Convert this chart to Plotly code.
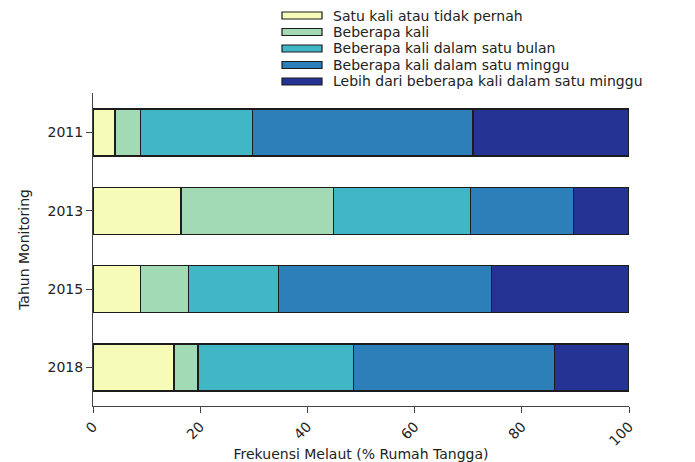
import plotly.graph_objects as go

# ---- data ----
years = ["2011", "2013", "2015", "2018"]
series_names = [
    "Satu kali atau tidak pernah",
    "Beberapa kali",
    "Beberapa kali dalam satu bulan",
    "Beberapa kali dalam satu minggu",
    "Lebih dari beberapa kali dalam satu minggu",
]
satu_kali = [4.1, 16.4, 8.9, 15.1]
beberapa_kali = [4.8, 28.5, 8.9, 4.5]
per_bulan = [20.9, 25.5, 16.8, 29.0]
per_minggu = [41.1, 19.3, 39.7, 37.5]
lebih_minggu = [29.1, 10.3, 25.7, 13.9]
series_values = [satu_kali, beberapa_kali, per_bulan, per_minggu, lebih_minggu]
colors = ["#f6fbb7", "#a1dab4", "#41b6c4", "#2c7fb8", "#253494"]
x_ticks = [0, 20, 40, 60, 80, 100]

FONT = "DejaVu Sans, Liberation Sans, Arial, sans-serif"
TXT = "#222222"

fig = go.Figure()
for name, vals, col in zip(series_names, series_values, colors):
    fig.add_trace(go.Bar(
        y=years, x=vals, name=name, orientation="h",
        marker=dict(color=col, line=dict(color="#1c1c1c", width=1.2)),
        width=0.6, showlegend=False,
    ))

# page body has an 8px margin; figure is sized so the page does not overflow
OFF = 8
W, H = 687, 454
L, R, T, B = 85, 66, 85, 56
pw, ph = W - L - R, H - T - B
def px_x(x):  # page pixel -> paper x
    return (x - OFF - L) / pw
def px_y(y):  # page pixel -> paper y
    return (H - B - (y - OFF)) / ph

# ---- legend drawn as wide boxes + text ----
row0, step = 15.5, 16.5
for i, (name, col) in enumerate(zip(series_names, colors)):
    yc = row0 + i * step
    fig.add_shape(type="rect", xref="paper", yref="paper",
                  x0=px_x(282), x1=px_x(322), y0=px_y(yc + 3.5), y1=px_y(yc - 3.5),
                  fillcolor=col, line=dict(color="#1c1c1c", width=1.2))
    fig.add_annotation(xref="paper", yref="paper", x=px_x(331), y=px_y(yc),
                       text=name, showarrow=False, xanchor="left", yanchor="middle",
                       font=dict(family=FONT, size=14, color=TXT))

fig.update_layout(
    barmode="stack",
    width=W, height=H,
    margin=dict(l=L, r=R, t=T, b=B, pad=0, autoexpand=False),
    paper_bgcolor="white", plot_bgcolor="white",
    font=dict(family=FONT, size=14, color=TXT),
    xaxis=dict(
        automargin=False,
        range=[0, 100], tickvals=x_ticks, ticktext=[str(v) for v in x_ticks],
        tickangle=-45, ticks="outside", ticklen=6, tickcolor="#444",
        showline=True, linecolor="#444", linewidth=1, showgrid=False, zeroline=False,
        title=dict(text="Frekuensi Melaut (% Rumah Tangga)", standoff=2,
                   font=dict(family=FONT, size=14, color=TXT)),
        tickfont=dict(family=FONT, size=14, color=TXT),
    ),
    yaxis=dict(
        automargin=False,
        type="category", categoryorder="array", categoryarray=years,
        range=[3.491, -0.504],
        ticks="outside", ticklen=6, tickcolor="#444",
        showline=True, linecolor="#444", linewidth=1, showgrid=False, zeroline=False,
        title=dict(text="Tahun Monitoring", standoff=14,
                   font=dict(family=FONT, size=14, color=TXT)),
        tickfont=dict(family=FONT, size=14, color=TXT),
    ),
)

fig.write_html("out.html")
